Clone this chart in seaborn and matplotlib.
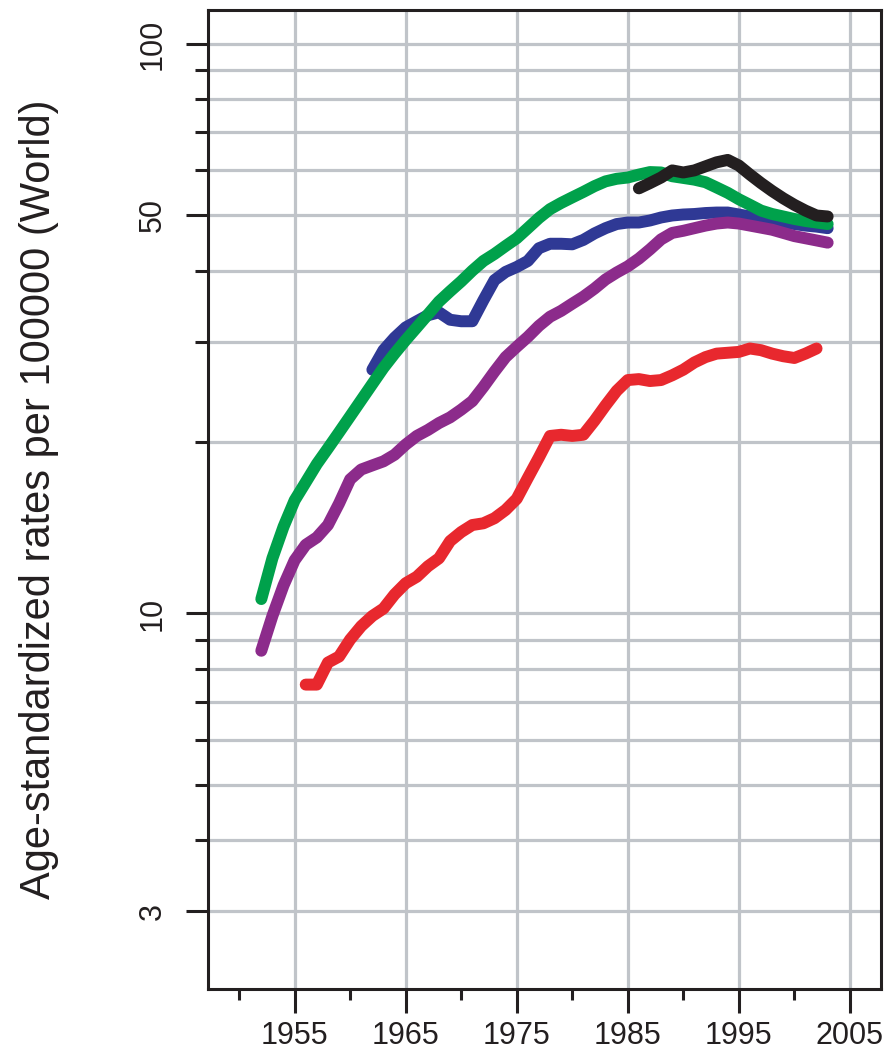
import numpy as np
import pandas as pd
import matplotlib
matplotlib.use("Agg")
import matplotlib.pyplot as plt
from matplotlib.ticker import FixedLocator, NullFormatter, FixedFormatter
import seaborn as sns

# ---- data: age-standardized rates per 100000 (World) ----
green_years = list(range(1952, 2004))
green_rates = [10.6, 12.5, 14.2, 15.8, 17.0, 18.3, 19.5, 20.8, 22.2, 23.7,
               25.3, 27.0, 28.6, 30.2, 31.8, 33.5, 35.3, 36.8, 38.3, 40.0,
               41.6, 42.8, 44.2, 45.6, 47.5, 49.5, 51.3, 52.6, 53.8, 55.0,
               56.3, 57.4, 58.0, 58.3, 59.0, 59.6, 59.5, 58.6, 58.2, 57.8,
               57.2, 56.0, 54.8, 53.4, 52.2, 51.0, 50.3, 49.8, 49.3, 48.9,
               48.6, 48.3]

blue_years = list(range(1962, 2004))
blue_rates = [26.8, 29.0, 30.5, 31.8, 32.6, 33.4, 33.8, 32.8, 32.6, 32.6,
              35.5, 38.5, 39.8, 40.6, 41.6, 43.8, 44.6, 44.6, 44.5, 45.3,
              46.5, 47.5, 48.3, 48.6, 48.6, 49.0, 49.6, 50.0, 50.2, 50.3,
              50.5, 50.6, 50.6, 50.2, 49.8, 49.4, 49.0, 48.6, 48.3, 48.0,
              47.8, 47.5]

purple_years = list(range(1952, 2004))
purple_rates = [8.6, 9.9, 11.2, 12.4, 13.2, 13.6, 14.3, 15.6, 17.2, 17.9,
                18.2, 18.5, 19.0, 19.8, 20.5, 21.0, 21.6, 22.1, 22.8, 23.6,
                25.0, 26.6, 28.2, 29.4, 30.6, 32.0, 33.2, 34.0, 35.0, 36.0,
                37.2, 38.6, 39.7, 40.7, 42.0, 43.6, 45.4, 46.6, 47.0, 47.5,
                48.0, 48.4, 48.6, 48.4, 48.0, 47.6, 47.2, 46.6, 46.0, 45.6,
                45.2, 44.8]

red_years = list(range(1956, 2003))
red_rates = [7.5, 7.5, 8.2, 8.4, 9.0, 9.5, 9.9, 10.2, 10.8, 11.3,
             11.6, 12.1, 12.5, 13.4, 13.9, 14.3, 14.4, 14.7, 15.2, 15.9,
             17.3, 18.8, 20.5, 20.6, 20.5, 20.6, 21.8, 23.2, 24.6, 25.7,
             25.8, 25.6, 25.7, 26.2, 26.8, 27.6, 28.2, 28.6, 28.7, 28.8,
             29.2, 29.0, 28.6, 28.3, 28.1, 28.6, 29.2]

black_years = list(range(1986, 2004))
black_rates = [55.8, 57.0, 58.3, 60.0, 59.5, 60.0, 61.0, 62.0, 62.6, 61.2,
               59.0, 57.0, 55.2, 53.6, 52.2, 51.0, 50.0, 49.8]

# axis ticks
x_major = [1955, 1965, 1975, 1985, 1995, 2005]
x_minor = [1950, 1960, 1970, 1980, 1990, 2000]
y_major = [3, 10, 50, 100]
y_minor = [4, 5, 6, 7, 8, 9, 20, 30, 40, 60, 70, 80, 90]
y_label = "Age-standardized rates per 100000 (World)"

# ---- style ----
sns.set_style("white")
plt.rcParams["font.family"] = ["Liberation Sans", "DejaVu Sans"]

GRID = "#c0c4c9"
INK = "#231f20"

fig = plt.figure(figsize=(8.87, 10.49), dpi=100)
ax = fig.add_axes([0.2345, 0.0572, 0.7587, 0.9333])

# grid lines (drawn under everything)
for v in y_major + y_minor:
    ax.axhline(v, color=GRID, lw=2.3, zorder=0)
for v in x_major:
    ax.axvline(v, color=GRID, lw=2.3, zorder=0)

series = [
    (blue_years, blue_rates, "#2f3995"),
    (purple_years, purple_rates, "#8c2b8b"),
    (green_years, green_rates, "#00a14b"),
    (red_years, red_rates, "#e8282e"),
    (black_years, black_rates, INK),
]
for i, (yrs, vals, col) in enumerate(series):
    df = pd.DataFrame({"year": yrs, "rate": vals})
    sns.lineplot(data=df, x="year", y="rate", color=col, lw=8.6,
                 estimator=None, ax=ax, zorder=3 + i,
                 solid_capstyle="round", solid_joinstyle="round")

ax.set_yscale("log")
ax.set_xlim(1947.2, 2007.8)
ax.set_ylim(2.19, 114.8)

ax.xaxis.set_major_locator(FixedLocator(x_major))
ax.xaxis.set_minor_locator(FixedLocator(x_minor))
ax.xaxis.set_major_formatter(FixedFormatter([str(v) for v in x_major]))
ax.xaxis.set_minor_formatter(NullFormatter())

ax.yaxis.set_major_locator(FixedLocator(y_major))
ax.yaxis.set_minor_locator(FixedLocator(y_minor))
ax.yaxis.set_major_formatter(FixedFormatter([str(v) for v in y_major]))
ax.yaxis.set_minor_formatter(NullFormatter())

ax.tick_params(axis="x", which="major", length=17, width=2.2, color=INK,
               labelsize=22, labelcolor=INK, pad=6, direction="out", bottom=True)
ax.tick_params(axis="x", which="minor", length=8, width=2.2, color=INK,
               direction="out", bottom=True)
ax.tick_params(axis="y", which="major", length=16, width=2.2, color=INK,
               labelsize=22, labelcolor=INK, pad=13, direction="out", left=True)
ax.tick_params(axis="y", which="minor", length=9.4, width=2.2, color=INK,
               direction="out", left=True)
for lab in ax.get_yticklabels():
    lab.set_rotation(90)
    lab.set_va("center")

for sp in ax.spines.values():
    sp.set_visible(True)
    sp.set_color(INK)
    sp.set_linewidth(2.2)
    sp.set_zorder(10)

ax.set_xlabel("")
ax.set_ylabel(y_label, fontsize=30, color=INK)
ax.yaxis.set_label_coords(-0.222, 0.5)

fig.savefig("out.png", dpi=100)
